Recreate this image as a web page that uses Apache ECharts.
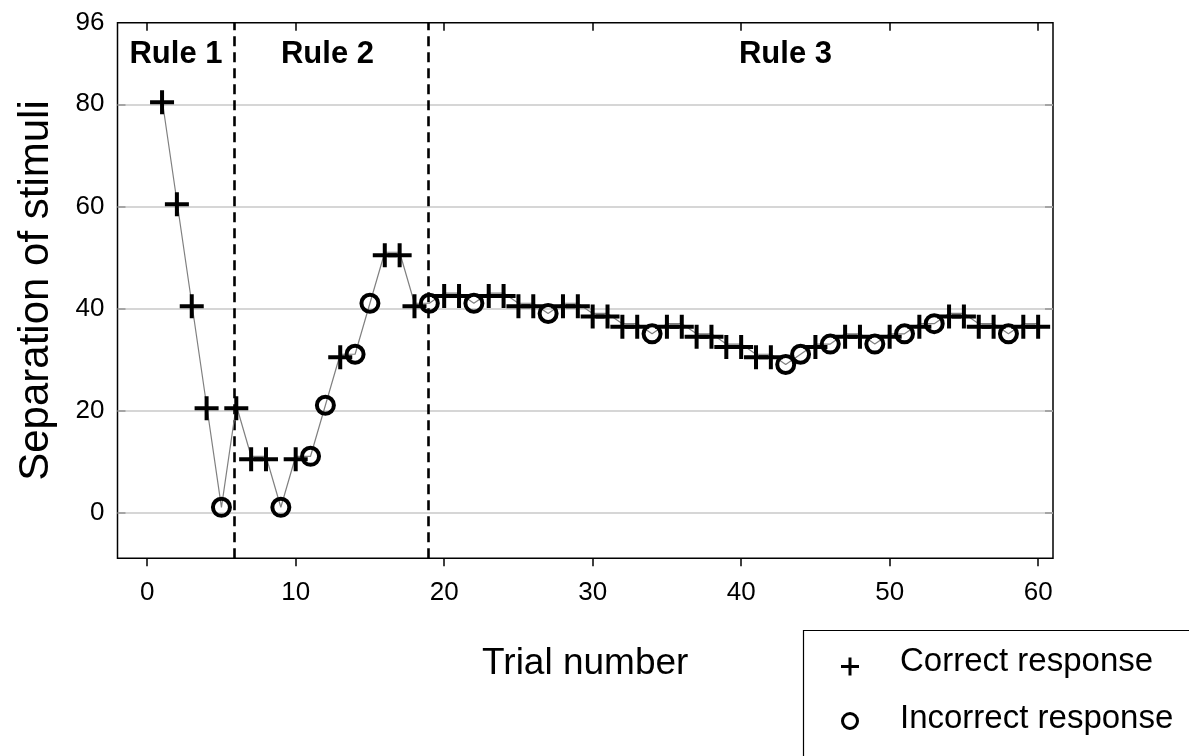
<!DOCTYPE html>
<html><head><meta charset="utf-8">
<script src="https://cdn.jsdelivr.net/npm/echarts@6/dist/echarts.min.js"></script>
<style>html,body{margin:0;padding:0;background:#fff}#c{width:1189px;height:756px}</style>
</head><body><div id="c"></div>
<script>
// ---- data ----
const trials = [1,2,3,4,5,6,7,8,9,10,11,12,13,14,15,16,17,18,19,20,21,22,23,24,25,26,27,28,29,30,
  31,32,33,34,35,36,37,38,39,40,41,42,43,44,45,46,47,48,49,50,51,52,53,54,55,56,57,58,59,60];
const separation = [81,61,41,21,1,21,11,11,1,11,11,21,31,31,41,51,51,41,41,43,
  43,41,43,43,41,41,39,41,41,39,39,37,37,35,37,37,35,35,33,33,
  31,31,29,31,33,33,35,35,33,35,35,37,37,39,39,37,37,35,37,37];
// C = correct, I = incorrect
const response = ['C','C','C','C','I','C','C','C','I','C','I','I','C','I','I','C','C','C','I','C',
  'C','I','C','C','C','C','I','C','C','C','C','C','C','I','C','C','C','C','C','C',
  'C','C','I','I','C','I','C','C','I','C','I','C','I','C','C','C','C','I','C','C'];
const xTicks = [0,10,20,30,40,50,60];
const yTicks = [0,20,40,60,80];
const yLabels = [0,20,40,60,80,96];
const ruleBoundaries = [5.85, 18.95];
const ruleNames = ['Rule 1','Rule 2','Rule 3'];
const legendNames = ['Correct response','Incorrect response'];
const xTitle = 'Trial number';
const yTitle = 'Separation of stimuli';

// ---- build ----
const linePts = trials.map((t,i)=>[t, separation[i]]);
const correctPts = trials.map((t,i)=>[t, separation[i], response[i]]).filter(d=>d[2]==='C').map(d=>[d[0],d[1]]);
const incorrectPts = trials.map((t,i)=>[t, separation[i], response[i]]).filter(d=>d[2]==='I').map(d=>[d[0],d[1]]);
const plusPath = 'path://M0,10L24,10L24,14L0,14Z M10,0L14,0L14,24L10,24Z';
const FONT = '"Liberation Sans", Arial, Helvetica, sans-serif';

const chart = echarts.init(document.getElementById('c'), null, {renderer:'canvas'});
const GL = 117.5, GT = 22.7, GW = 935.5, GH = 535.6;
const tickStyle = {color: '#000', width: 1.5};
chart.setOption({
  animation: false,
  backgroundColor: '#fff',
  textStyle: {fontFamily: FONT},
  grid: {left: GL, top: GT, width: GW, height: GH, show: true, borderColor: '#000', borderWidth: 1.5, backgroundColor: '#fff'},
  xAxis: [{
    type: 'value', min: -2, max: 61, position: 'bottom',
    axisLine: {show: false, onZero: false},
    axisTick: {show: true, inside: false, length: 8, customValues: xTicks, lineStyle: tickStyle},
    axisLabel: {show: true, customValues: xTicks, margin: 22, color: '#000', fontSize: 26, fontFamily: FONT},
    splitLine: {show: false},
    name: xTitle, nameLocation: 'middle', nameGap: 87,
    nameTextStyle: {fontSize: 37, color: '#000', fontFamily: FONT}
  },{
    type: 'value', min: -2, max: 61, position: 'top',
    axisLine: {show: false, onZero: false},
    axisTick: {show: true, inside: true, length: 8, customValues: xTicks, lineStyle: tickStyle},
    axisLabel: {show: false},
    splitLine: {show: false}
  }],
  yAxis: [{
    type: 'value', min: -9, max: 96, position: 'left',
    axisLine: {show: false, onZero: false},
    axisTick: {show: true, inside: true, length: 8, customValues: yTicks, lineStyle: tickStyle},
    axisLabel: {show: true, customValues: yLabels, margin: 13, color: '#000', fontSize: 26, fontFamily: FONT},
    splitLine: {show: false},
    name: yTitle, nameLocation: 'middle', nameGap: 60,
    nameTextStyle: {fontSize: 42, color: '#000', fontFamily: FONT}
  },{
    type: 'value', min: -9, max: 96, position: 'right',
    axisLine: {show: false, onZero: false},
    axisTick: {show: true, inside: true, length: 8, customValues: yTicks, lineStyle: tickStyle},
    axisLabel: {show: false},
    splitLine: {show: false}
  }],
  series: [
    {
      name: 'path', type: 'line', data: linePts, z: 2,
      symbol: 'none', showSymbol: false, silent: true,
      lineStyle: {color: '#808080', width: 1.2},
      markLine: {
        silent: true, symbol: ['none','none'], z: 1, animation: false,
        label: {show: false},
        lineStyle: {color: '#c8c8c8', width: 1.5, type: 'solid'},
        data: yTicks.map(v=>({yAxis: v}))
      }
    },
    {
      name: 'boundaries', type: 'line', data: [], z: 2,
      markLine: {
        silent: true, symbol: ['none','none'], z: 2, animation: false,
        label: {show: false},
        lineStyle: {color: '#000', width: 2.6, type: [10,6]},
        data: ruleBoundaries.map(v=>({xAxis: v}))
      }
    },
    {
      name: legendNames[0], type: 'scatter', data: correctPts, z: 3,
      symbol: plusPath, symbolSize: 24, symbolOffset: [0, 3],
      itemStyle: {color: '#000', opacity: 1}
    },
    {
      name: legendNames[1], type: 'scatter', data: incorrectPts, z: 3,
      symbol: 'circle', symbolSize: 17,
      itemStyle: {color: 'rgba(0,0,0,0)', borderColor: '#000', borderWidth: 4, opacity: 1}
    }
  ],
  graphic: [
    {type: 'text', x: 176, y: 54, z: 10, style: {text: ruleNames[0], fontSize: 31, fontWeight: 'bold', fontFamily: FONT, fill: '#000', align: 'center', verticalAlign: 'middle'}},
    {type: 'text', x: 327.5, y: 54, z: 10, style: {text: ruleNames[1], fontSize: 31, fontWeight: 'bold', fontFamily: FONT, fill: '#000', align: 'center', verticalAlign: 'middle'}},
    {type: 'text', x: 785.5, y: 54, z: 10, style: {text: ruleNames[2], fontSize: 31, fontWeight: 'bold', fontFamily: FONT, fill: '#000', align: 'center', verticalAlign: 'middle'}},
    {type: 'rect', x: 803.5, y: 630.5, z: 10, shape: {width: 420, height: 160}, style: {fill: '#fff', stroke: '#000', lineWidth: 1.2}},
    {type: 'rect', x: 841, y: 665, z: 11, shape: {width: 18, height: 3}, style: {fill: '#000'}},
    {type: 'rect', x: 848.5, y: 657.5, z: 11, shape: {width: 3, height: 18}, style: {fill: '#000'}},
    {type: 'circle', x: 850, y: 721, z: 11, shape: {cx: 0, cy: 0, r: 7.5}, style: {fill: 'none', stroke: '#000', lineWidth: 3}},
    {type: 'text', x: 900, y: 662, z: 11, style: {text: legendNames[0], fontSize: 33, fontFamily: FONT, fill: '#000', align: 'left', verticalAlign: 'middle'}},
    {type: 'text', x: 900, y: 719, z: 11, style: {text: legendNames[1], fontSize: 33, fontFamily: FONT, fill: '#000', align: 'left', verticalAlign: 'middle'}}
  ]
});
</script></body></html>
